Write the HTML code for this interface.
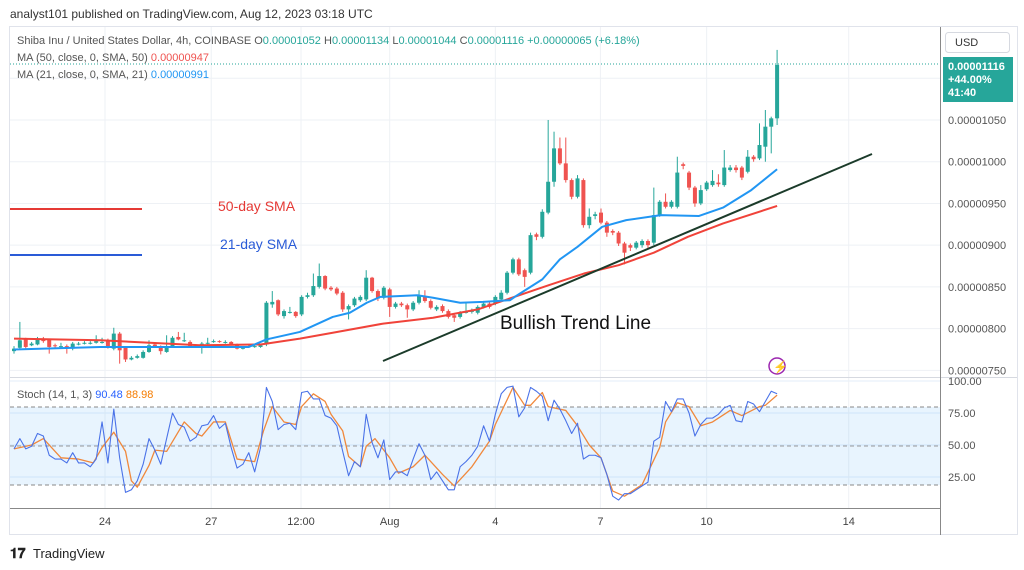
<!DOCTYPE html>
<html><head><meta charset="utf-8"><style>
html,body{margin:0;padding:0;background:#fff;width:1024px;height:570px;overflow:hidden}
svg{display:block;font-family:"Liberation Sans",sans-serif}
</style></head><body>
<svg id="c" width="1024" height="570" viewBox="0 0 1024 570">
<text x="10" y="18" font-size="12" fill="#333">analyst101 published on TradingView.com, Aug 12, 2023 03:18 UTC</text>
<rect x="9.5" y="26.5" width="1008" height="508" fill="none" stroke="#e0e3eb"/>
<g id="grid"></g>
<rect x="10" y="407" width="930" height="78" fill="#2196f3" fill-opacity="0.1"/>
<line x1="10" x2="940" y1="407" y2="407" stroke="#888" stroke-dasharray="4,3"/>
<line x1="10" x2="940" y1="485" y2="485" stroke="#888" stroke-dasharray="4,3"/>
<line x1="10" x2="940" y1="446" y2="446" stroke="#999" stroke-dasharray="4,3"/>
<line x1="10" x2="1017" y1="377.5" y2="377.5" stroke="#d6d9e0"/>
<line x1="10" x2="940" y1="508.5" y2="508.5" stroke="#888"/>
<line x1="940.5" x2="940.5" y1="27" y2="535" stroke="#888"/>
<line x1="10" x2="940" y1="64" y2="64" stroke="#26a69a" stroke-dasharray="1,2"/>
<g id="plot"></g>
<line x1="10" x2="142" y1="209" y2="209" stroke="#e53935" stroke-width="2"/>
<line x1="10" x2="142" y1="255" y2="255" stroke="#2a5bd7" stroke-width="2"/>
<text x="218" y="211" font-size="14" fill="#e53935">50-day SMA</text>
<text x="220" y="249" font-size="14" fill="#2a5bd7">21-day SMA</text>
<text x="500" y="329" font-size="19" fill="#111">Bullish Trend Line</text>
<g font-size="11">
<text x="17" y="44" fill="#555">Shiba Inu / United States Dollar, 4h, COINBASE  <tspan fill="#555">O</tspan><tspan fill="#26a69a">0.00001052</tspan> <tspan fill="#555"> H</tspan><tspan fill="#26a69a">0.00001134</tspan> <tspan fill="#555"> L</tspan><tspan fill="#26a69a">0.00001044</tspan> <tspan fill="#555"> C</tspan><tspan fill="#26a69a">0.00001116</tspan>  <tspan fill="#26a69a">+0.00000065 (+6.18%)</tspan></text>
<text x="17" y="61" fill="#555">MA (50, close, 0, SMA, 50)  <tspan fill="#ef5350">0.00000947</tspan></text>
<text x="17" y="78" fill="#555">MA (21, close, 0, SMA, 21)  <tspan fill="#2196f3">0.00000991</tspan></text>
<text x="17" y="398" fill="#555">Stoch (14, 1, 3)  <tspan fill="#2962ff">90.48</tspan>  <tspan fill="#f57c00">88.98</tspan></text>
</g>
<rect x="945.5" y="32.5" width="64" height="20" rx="3" fill="#fff" stroke="#d6d9e0"/>
<text x="955" y="46" font-size="11" fill="#333">USD</text>
<g id="axis"></g>
<rect x="943" y="57" width="70" height="45" fill="#26a69a"/>
<text x="948" y="70" font-size="11" font-weight="bold" fill="#fff">0.00001116</text>
<text x="948" y="83" font-size="11" font-weight="bold" fill="#fff">+44.00%</text>
<text x="948" y="96" font-size="11" font-weight="bold" fill="#fff">41:40</text>
<circle cx="777" cy="366" r="8" fill="#fff" stroke="#9c27b0" stroke-width="1.5"/>
<text x="773" y="371" font-size="12" fill="#9c27b0">⚡</text>
<g>
<text x="10" y="558" font-size="14" font-weight="bold" fill="#222">𝟏𝟕</text>
<text x="33" y="558" font-size="13" fill="#222">TradingView</text>
</g>
</svg>
<script>
const opens=[773,777,787,780,781,788,787,780,779,779,776,782,782,783,783,784,786,776,794,777,763,765,765,772,781,779,772,779,790,786,784,779,777,782,784,785,784,784,781,777,778,779,778,
781,829,834,815,820,820,817,838,840,850,863,849,848,843,823,828,834,835,861,845,837,847,826,830,828,823,831,839,833,823,827,821,816,814,820,820,819,826,830,830,
835,843,867,883,870,867,913,910,939,976,1016,998,978,958,978,924,935,939,927,917,915,902,900,897,900,905,903,936,952,946,946,997,987,969,950,967,972,975,972,990,993,993,988,1006,1004,1018,1042,1052];
const closes=[776,786,778,782,787,785,778,779,779,777,782,782,783,783,785,784,778,794,774,763,765,767,772,780,779,773,778,789,787,786,778,779,782,783,785,784,784,781,776,777,779,779,780,
831,832,817,821,820,815,838,840,851,863,848,847,842,823,827,836,838,861,845,836,849,826,830,828,823,831,840,833,825,826,821,814,813,819,820,822,826,830,826,838,
843,867,883,865,862,912,910,940,976,1016,998,978,958,980,924,934,937,927,915,915,902,891,897,903,905,900,936,952,946,952,987,995,969,950,966,975,977,973,993,993,990,981,1006,1003,1020,1042,1052,1116];
const highs=[779,808,789,784,790,790,788,782,783,781,784,784,785,785,792,789,788,801,796,778,767,769,774,786,782,780,792,791,796,795,786,781,784,789,787,786,786,785,782,779,781,781,782,
833,845,835,823,826,821,840,843,866,878,864,851,850,845,829,838,840,870,862,847,851,849,832,832,830,833,846,846,835,828,829,823,818,821,831,824,828,832,832,840,
846,869,885,885,872,915,915,943,1050,1036,1029,1029,980,984,980,944,940,944,929,919,917,904,902,905,907,907,969,954,962,954,1006,999,989,971,972,977,990,985,1014,996,996,995,1014,1008,1046,1062,1054,1134];
const lows=[770,775,776,779,780,783,770,777,776,770,774,780,781,781,782,782,776,774,758,760,762,764,764,771,777,769,771,778,786,784,777,777,770,781,783,783,782,780,775,775,777,777,777,
779,825,815,812,818,813,815,836,838,848,846,845,840,820,811,826,832,833,843,833,835,814,824,826,813,821,829,831,823,821,819,812,808,812,818,818,817,824,824,828,
833,841,865,863,850,865,906,908,937,970,996,975,955,956,921,920,931,925,910,912,899,877,893,895,897,896,900,934,944,944,944,991,966,946,948,965,970,970,970,988,987,978,986,1000,1002,1000,1010,1044];
const ma21Idx=[0,14.7,40,43,48.7,54.3,57.2,60.1,62.4,68.7,71.4,76,79.9,84.5,85.3,90,93,96,100.2,104.3,110.2,116.7,120.8,125.6,130];
const ma21Val=[775,778,778,787,796,814,819,831,838,840,837,831,832,834,838,859,883,898,922,930,936,935,945,966,991];
const ma50Idx=[0,14.7,31.7,42,48.7,54.3,62.9,71.4,79,91.1,97.1,103,109,114.8,120.8,130];
const ma50Val=[788,786,780,781,788,795,806,813,823,852,866,876,891,910,926,947];
const stochK=[47,55,47,49,59,57,42,39,39,36,44,36,36,33,39,68,36,78,40,13,15,22,35,55,46,35,55,75,66,64,53,56,65,66,73,63,67,48,32,35,44,29,48,95,84,62,66,67,62,91,92,86,86,73,71,65,45,26,37,33,74,52,40,54,23,29,
29,26,39,51,42,23,29,22,15,15,33,37,42,49,65,53,74,90,95,96,72,79,95,92,88,69,85,78,69,59,67,39,42,42,40,27,10,7,12,12,15,18,21,53,56,84,76,86,86,75,57,66,71,71,74,79,81,69,68,84,82,76,84,92,90];
const stochDIdx=[0,3,5,8,11,13.5,15,17,19,20,21,23,24,26,29,31,32,34,36,38,41,42.5,44,46,48,49,51,53,54,56,57,59,60,61.5,64,65.5,66,68,70,73,75,78,81,82,85,87,88,90,91,94,96,98,100,102,104,107,110,111,113,115,117,119,121,122,124,127,128,130];
const stochDVal=[47,50,55,40,39,36,48,60,45,22,17,34,46,45,68,59,57,68,68,39,37,61,80,68,66,80,90,84,74,61,41,33,49,55,40,28,29,33,42,27,18,33,53,66,95,81,81,91,80,77,65,50,40,14,10,19,48,68,83,80,65,68,74,77,73,80,81,89];
const priceTicks=[1100,1050,1000,950,900,850,800,750];
const stochTicks=[100,75,50,25];
const timeLabels=["24","27","12:00","Aug","4","7","10","14"];
const timeIdx=[15.5,33.6,48.9,64,82,99.9,118,142.2];

const NS="http://www.w3.org/2000/svg";
const X=i=>14+i*5.87;
const Y=p=>120+(1050-p)*0.8344;
const SY=v=>509-v*1.28;
function mk(tag,attrs,parent){const e=document.createElementNS(NS,tag);for(const k in attrs)e.setAttribute(k,attrs[k]);parent.appendChild(e);return e;}
const grid=document.getElementById('grid'),plot=document.getElementById('plot'),axis=document.getElementById('axis');
priceTicks.forEach(p=>{const y=Y(p);if(y<30)return;
 const l=mk('line',{x1:10,x2:940,y1:y,y2:y,stroke:'#eef1f5'},grid);
 
 
 const t=mk('text',{x:948,y:y+4,'font-size':11,fill:'#555'},axis);
 t.textContent=(p/1e8).toFixed(8);
 
 
});
stochTicks.forEach(v=>{const y=SY(v);
 const l=mk('line',{x1:10,x2:940,y1:y,y2:y,stroke:'#e3eefa'},grid);
 
 
 const t=mk('text',{x:948,y:y+4,'font-size':11,fill:'#555'},axis);
 t.textContent=v.toFixed(2);
 
 
});
timeLabels.forEach((s,k)=>{const x=X(timeIdx[k]);
 const l=mk('line',{x1:x,x2:x,y1:27,y2:508,stroke:'#eef1f5'},grid);
 
 
 const t=mk('text',{x:x,y:525,'font-size':11,fill:'#444','text-anchor':'middle'},axis);
 t.textContent=s;
 
 
});
opens.forEach((o,i)=>{const c=closes[i],up=c>=o,col=up?'#26a69a':'#ef5350',x=X(i);
 const g=mk('g',{},plot);
 
 
 mk('line',{x1:x,x2:x,y1:Y(highs[i]),y2:Y(lows[i]),stroke:col,'stroke-width':1},g);
 const t=Y(Math.max(o,c)),b=Y(Math.min(o,c));
 mk('rect',{x:x-2,y:t,width:4,height:Math.max(1,b-t),fill:col},g);
});
function poly(idx,val,yf,col,w,name){
 const p=mk('polyline',{points:idx.map((i,k)=>X(i)+','+yf(val[k])).join(' '),fill:'none',stroke:col,'stroke-width':w,'stroke-linejoin':'round'},plot);
 
 
}
poly(ma50Idx,ma50Val,Y,'#f0433a',2,'sma50-line');
poly(ma21Idx,ma21Val,Y,'#2196f3',2,'sma21-line');
const tl=mk('line',{x1:383,y1:361,x2:872,y2:154,stroke:'#1b3b2a','stroke-width':2},plot);


poly(stochDIdx,stochDVal,SY,'#f0883c',1.3,'stoch-d-line');
poly(stochK.map((v,i)=>i),stochK,SY,'#4a72e8',1.1,'stoch-k-line');
</script>
</body></html>
